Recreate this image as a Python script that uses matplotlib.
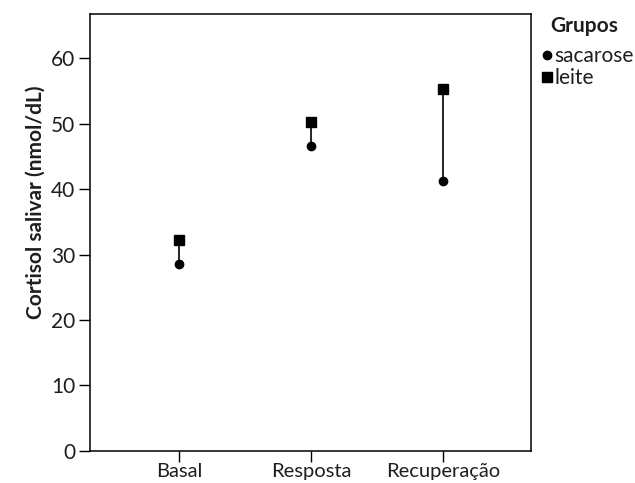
import matplotlib.pyplot as plt

# dados
fases = ["Basal", "Resposta", "Recuperação"]
sacarose = [28.5, 46.5, 41.2]
leite = [32.2, 50.3, 55.2]
yticks = [0, 10, 20, 30, 40, 50, 60]

plt.rcParams['font.family'] = ['Lato', 'DejaVu Sans']
cor_texto = '#1e1e1e'

W, H = 635, 483
fig = plt.figure(figsize=(W / 100, H / 100), dpi=100)
ax = fig.add_axes([0.1417, 0.0663, 0.6945, 0.9057])

x = list(range(len(fases)))
# linhas verticais ligando os dois grupos
ax.vlines(x, sacarose, leite, color='black', linewidth=1.2, zorder=2)
ax.plot(x, sacarose, 'o', color='black', markersize=6, label='sacarose', zorder=3)
ax.plot(x, leite, 's', color='black', markersize=7.5, label='leite', zorder=3)

ax.set_xlim(-0.675, 2.665)
ax.set_ylim(0, 66.8)
ax.set_xticks(x)
ax.set_xticklabels(fases, fontsize=14.5, color=cor_texto)
ax.set_yticks(yticks)
ax.set_yticklabels([str(v) for v in yticks], fontsize=15, color=cor_texto)
ax.tick_params(axis='both', direction='out', length=8, width=1, color='black', pad=2.5)
ax.tick_params(axis='x', pad=0.5)
ax.set_ylabel("Cortisol salivar (nmol/dL)", fontsize=15, fontweight='bold', color=cor_texto)
ax.yaxis.set_label_coords(-0.1, 0.569)

for s in ax.spines.values():
    s.set_linewidth(1.1)
    s.set_color('black')

# legenda fora do gráfico
fig.text(550 / W, 1 - 26 / H, 'Grupos', fontsize=15, fontweight='bold',
         color=cor_texto, ha='left', va='center')
leg = ax.legend(loc='upper left', bbox_to_anchor=(1.015, 0.935), frameon=False,
                fontsize=15, handlelength=0.5, handletextpad=0.1,
                labelspacing=0.1, borderaxespad=0.0, borderpad=0.2)
for t in leg.get_texts():
    t.set_color(cor_texto)

fig.savefig("out.png", dpi=100)
